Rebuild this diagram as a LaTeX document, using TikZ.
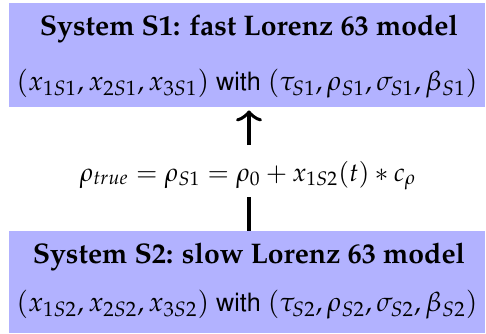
\documentclass[tikz,border=0pt]{standalone}
\usepackage[T1]{fontenc}
\usepackage{mathpazo}
\usepackage[scaled=0.92]{helvet}
\usetikzlibrary{arrows.meta}
\begin{document}
\begin{tikzpicture}[x=0.5pt,y=-0.5pt,
  box/.style={fill=blue!30, draw=none, inner sep=0pt, minimum width=238pt},
  titletext/.style={inner sep=0pt, anchor=base, font=\fontsize{14.2}{16}\selectfont\bfseries},
  vartext/.style={inner sep=0pt, anchor=base, font=\fontsize{13.7}{16}\selectfont},
  eqtext/.style={inner sep=0pt, anchor=base, font=\fontsize{12.9}{16}\selectfont},
  conn/.style={line width=1.9pt},
  tip/.style={-{Classical TikZ Rightarrow[length=5.5pt,width=13pt]}}]
\useasboundingbox (0,0) rectangle (486,333);
\node[box, minimum height=52pt] (s1) at (247,55) {};
\node[box, minimum height=51pt] (s2) at (247,282) {};
\node[titletext] (t1) at (249,35) {System S1: fast Lorenz 63 model};
\node[vartext] (l1) at (247,90) {$(x_{1S1},x_{2S1},x_{3S1})$ \textsf{with} $(\tau_{S1},\rho_{S1},\sigma_{S1},\beta_{S1})$};
\node[titletext] (t2) at (249,263) {System S2: slow Lorenz 63 model};
\node[vartext] (l2) at (247,311) {$(x_{1S2},x_{2S2},x_{3S2})$ \textsf{with} $(\tau_{S2},\rho_{S2},\sigma_{S2},\beta_{S2})$};
\node[eqtext] (eq) at (248,181) {$\rho_{true}=\rho_{S1}=\rho_0+x_{1S2}(t)*c_\rho$};
\coordinate (eqlow) at (249,197);
\coordinate (eqtop) at (249,145);
\draw[conn] ([xshift=1pt]s2.north) -- (eqlow);
\draw[conn,tip] (eqtop) -- ([xshift=1pt,yshift=-1.5pt]s1.south);
\end{tikzpicture}
\end{document}
